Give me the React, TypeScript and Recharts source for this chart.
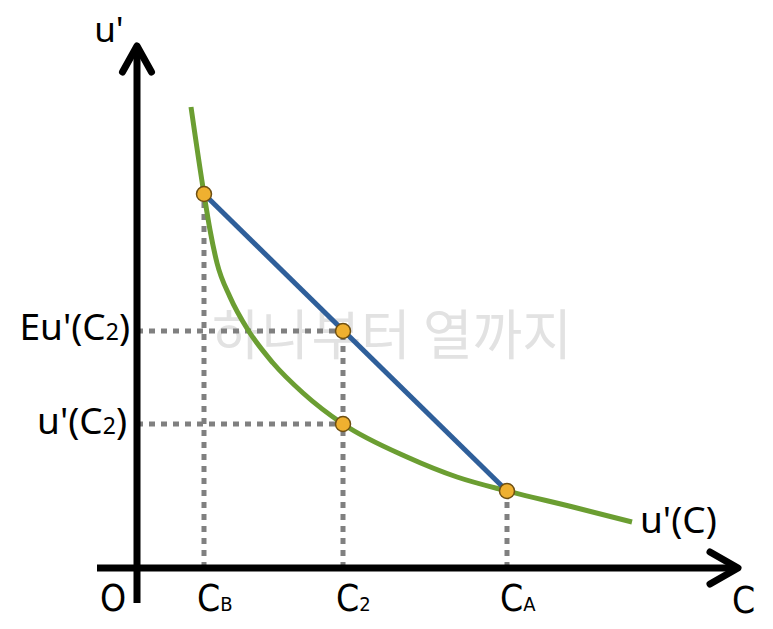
import React from 'react';
import { ComposedChart, Line, Scatter, XAxis, YAxis, ReferenceDot } from 'recharts';

// u'(C) curve (C along x, u' along y)
const curveC = [5.4, 6.7, 7.3, 8.0, 9.3, 11.1, 13.6, 16.6, 20.6, 27.0, 32.0, 37.0, 43.6, 49.5];
const curveU = [46.1, 37.4, 33.8, 30.5, 27.1, 23.8, 20.5, 17.5, 14.4, 11.1, 9.1, 7.7, 6.1, 4.6];

// key consumption levels
const cB = 6.7;
const c2 = 20.6;
const cA = 37.0;

// marginal utilities
const uB = 37.4;
const uA = 7.7;
const u2 = 14.4;
const eu2 = 23.7;

// highlighted points
const pointC = [cB, c2, c2, cA];
const pointU = [uB, eu2, u2, uA];

// axis extents
const axisC = [-4, 60.1];
const axisU = [-3.5, 52.2];

const domainC: [number, number] = [-13.7, 63.6];
const domainU: [number, number] = [-6.1, 56.8];

const curveData = curveC.map((c, i) => ({ x: c, y: curveU[i] }));
const chordData = [
  { x: cB, y: uB },
  { x: cA, y: uA },
];
const pointData = pointC.map((c, i) => ({ x: c, y: pointU[i] }));

const vDots = [
  [{ x: cB, y: 0 }, { x: cB, y: uB }],
  [{ x: c2, y: 0 }, { x: c2, y: eu2 }],
  [{ x: cA, y: 0 }, { x: cA, y: uA }],
];
const hDots = [
  [{ x: 0, y: eu2 }, { x: c2, y: eu2 }],
  [{ x: 0, y: u2 }, { x: c2, y: u2 }],
];

const xAxisLine = [{ x: axisC[0], y: 0 }, { x: axisC[1], y: 0 }];
const yAxisLine = [{ x: 0, y: axisU[0] }, { x: 0, y: axisU[1] }];
const xArrow = [
  { x: axisC[1] - 2.8, y: 1.6 },
  { x: axisC[1], y: 0 },
  { x: axisC[1] - 2.8, y: -1.6 },
];
const yArrow = [
  { x: -1.45, y: axisU[1] - 2.6 },
  { x: 0, y: axisU[1] },
  { x: 1.45, y: axisU[1] - 2.6 },
];

const GREEN = '#6b9e32';
const BLUE = '#2f5f9a';
const DOT = '#808080';
const ORANGE = '#efb030';

const LEFT_FONT = "'Noto Sans', 'Open Sans', sans-serif";
const NARROW_FONT = "'Liberation Sans Narrow', 'DejaVu Sans Condensed', 'Liberation Sans', sans-serif";

type LabelOpts = {
  main: string;
  sub?: string;
  tail?: string;
  anchor: 'start' | 'middle' | 'end';
  dx: number;
  dy: number;
  font: string;
  size: number;
  subSize: number;
  stretch?: string;
};

const makeLabel = (o: LabelOpts) => (props: any) => {
  const vb = props.viewBox || {};
  const cx = (vb.x ?? 0) + (vb.width ?? 0) / 2;
  const cy = (vb.y ?? 0) + (vb.height ?? 0) / 2;
  return (
    <text
      x={cx + o.dx}
      y={cy + o.dy}
      textAnchor={o.anchor}
      fontFamily={o.font}
      fontSize={o.size}
      fill="#000"
      style={o.stretch ? { fontStretch: o.stretch } : undefined}
    >
      <tspan>{o.main}</tspan>
      {o.sub ? <tspan fontSize={o.subSize}>{o.sub}</tspan> : null}
      {o.tail ? <tspan>{o.tail}</tspan> : null}
    </text>
  );
};

const labels: { x: number; y: number; o: LabelOpts }[] = [
  { x: 0, y: axisU[1], o: { main: "u'", anchor: 'middle', dx: -28, dy: -4, font: LEFT_FONT, size: 35, subSize: 22 } },
  { x: 0, y: eu2, o: { main: "Eu'(C", sub: '2', tail: ')', anchor: 'end', dx: -7, dy: 9, font: LEFT_FONT, size: 37, subSize: 23 } },
  { x: 0, y: u2, o: { main: "u'(C", sub: '2', tail: ')', anchor: 'end', dx: -10, dy: 10, font: LEFT_FONT, size: 37, subSize: 23 } },
  { x: curveC[curveC.length - 1], y: curveU[curveU.length - 1], o: { main: "u'(C)", anchor: 'start', dx: 8, dy: 11, font: LEFT_FONT, size: 37, subSize: 23 } },
  { x: 0, y: 0, o: { main: 'O', anchor: 'middle', dx: -24, dy: 43, font: NARROW_FONT, size: 37, subSize: 20, stretch: 'condensed' } },
  { x: cB, y: 0, o: { main: 'C', sub: 'B', anchor: 'start', dx: -7, dy: 43, font: NARROW_FONT, size: 37, subSize: 20, stretch: 'condensed' } },
  { x: c2, y: 0, o: { main: 'C', sub: '2', anchor: 'start', dx: -7, dy: 43, font: NARROW_FONT, size: 37, subSize: 20, stretch: 'condensed' } },
  { x: cA, y: 0, o: { main: 'C', sub: 'A', anchor: 'start', dx: -7, dy: 43, font: NARROW_FONT, size: 37, subSize: 20, stretch: 'condensed' } },
  { x: axisC[1], y: 0, o: { main: 'C', anchor: 'start', dx: -6, dy: 45, font: NARROW_FONT, size: 37, subSize: 20, stretch: 'condensed' } },
];

const PointShape = (p: any) => (
  <circle cx={p.cx} cy={p.cy} r={7.5} fill={ORANGE} stroke="#6e4f12" strokeWidth={1.5} />
);

export default function App() {
  return (
    <div style={{ position: 'absolute', left: 0, top: 0, width: 773, height: 629, background: '#fff' }}>
      <ComposedChart width={773} height={629} margin={{ top: 0, right: 0, bottom: 0, left: 0 }}>
        <text
          x={392}
          y={355}
          textAnchor="middle"
          fontFamily="'Noto Sans CJK KR', sans-serif"
          fontSize={54}
          fill="#e2e2e2"
        >
          하나부터 열까지
        </text>
        <XAxis dataKey="x" type="number" domain={domainC} hide allowDataOverflow />
        <YAxis dataKey="y" type="number" domain={domainU} hide allowDataOverflow />
        {vDots.map((d, i) => (
          <Line key={'v' + i} data={d} dataKey="y" type="linear" stroke={DOT} strokeWidth={5} strokeDasharray="6 6" dot={false} activeDot={false} isAnimationActive={false} />
        ))}
        {hDots.map((d, i) => (
          <Line key={'h' + i} data={d} dataKey="y" type="linear" stroke={DOT} strokeWidth={5} strokeDasharray="6 6" dot={false} activeDot={false} isAnimationActive={false} />
        ))}
        <Line data={xAxisLine} dataKey="y" type="linear" stroke="#000" strokeWidth={7} dot={false} activeDot={false} isAnimationActive={false} />
        <Line data={yAxisLine} dataKey="y" type="linear" stroke="#000" strokeWidth={7} dot={false} activeDot={false} isAnimationActive={false} />
        <Line data={xArrow} dataKey="y" type="linear" stroke="#000" strokeWidth={7} strokeLinecap="round" strokeLinejoin="round" dot={false} activeDot={false} isAnimationActive={false} />
        <Line data={yArrow} dataKey="y" type="linear" stroke="#000" strokeWidth={7} strokeLinecap="round" strokeLinejoin="round" dot={false} activeDot={false} isAnimationActive={false} />
        <Line data={curveData} dataKey="y" type="monotone" stroke={GREEN} strokeWidth={5} dot={false} activeDot={false} isAnimationActive={false} />
        <Line data={chordData} dataKey="y" type="linear" stroke={BLUE} strokeWidth={5} dot={false} activeDot={false} isAnimationActive={false} />
        <Scatter data={pointData} dataKey="y" shape={PointShape} isAnimationActive={false} />
        {labels.map((l, i) => (
          <ReferenceDot key={'l' + i} x={l.x} y={l.y} r={0} fill="none" stroke="none" label={makeLabel(l.o)} />
        ))}
      </ComposedChart>
    </div>
  );
}
